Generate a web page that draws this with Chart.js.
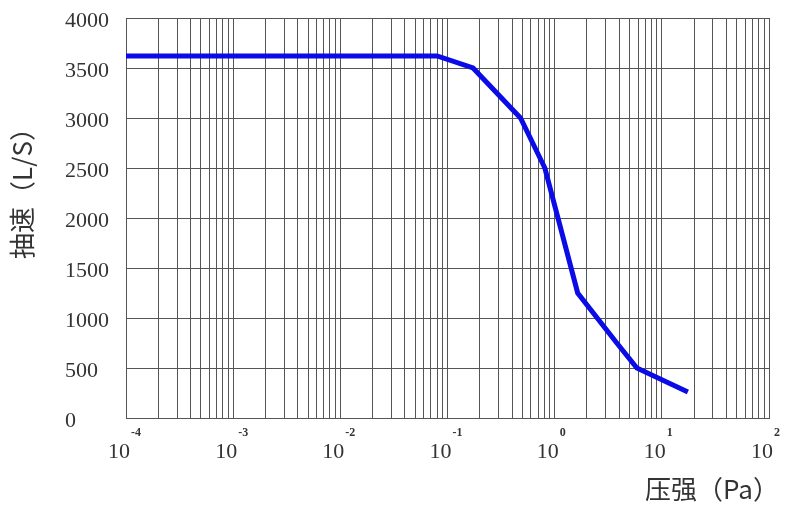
<!DOCTYPE html>
<html>
<head>
<meta charset="utf-8">
<script src="https://cdn.jsdelivr.net/npm/chart.js@4/dist/chart.umd.min.js"></script>
<style>
  html, body { margin: 0; padding: 0; background: #fff; }
  #wrap { width: 800px; height: 517px; }
</style>
</head>
<body>
<div id="wrap"><canvas id="chart"></canvas></div>
<script>
// pressure (Pa) vs pumping speed (L/S)
const pressure = [0.0001, 0.08, 0.173, 0.48, 0.81, 1.64, 3.8, 5.85, 17.5];
const speed = [3620, 3620, 3500, 3000, 2500, 1250, 750, 500, 260];

// log axis: one major line per decade, minor lines at 2..9
const decades = [-4, -3, -2, -1, 0, 1, 2];
const minorSteps = [2, 3, 4, 5, 6, 7, 8, 9];
const yStep = 250;
const yLabelStep = 500;

const xTitle = "压强（Pa）";
const yTitle = "抽速（L/S）";

const serif = '"Liberation Serif", "DejaVu Serif", serif';
const cjk = '"Noto Sans CJK SC", sans-serif';
const textColor = "#333";
const gridColor = "#555";

const axisText = {
  id: "axisText",
  afterDraw(chart) {
    const ctx = chart.ctx;
    const area = chart.chartArea;
    const x = chart.scales.x;
    ctx.save();
    ctx.fillStyle = textColor;
    ctx.textBaseline = "alphabetic";
    decades.forEach(e => {
      const px = x.getPixelForValue(Math.pow(10, e));
      ctx.font = "22px " + serif;
      ctx.textAlign = "center";
      ctx.fillText("10", px - 7, area.bottom + 40);
      ctx.font = "bold 12px " + serif;
      ctx.textAlign = "left";
      ctx.fillText(String(e), px + 5, area.bottom + 18);
    });

    ctx.font = "26px " + cjk;
    ctx.textAlign = "center";
    ctx.textBaseline = "middle";
    ctx.fillText(xTitle, 712, 489);

    ctx.translate(22, 187);
    ctx.rotate(-Math.PI / 2);
    ctx.fillText(yTitle, 0, 0);
    ctx.restore();
  }
};

new Chart(document.getElementById("chart"), {
  type: "line",
  data: {
    datasets: [{
      data: pressure.map((p, i) => ({ x: p, y: speed[i] })),
      borderColor: "#0b0be8",
      borderWidth: 5,
      pointRadius: 0,
      tension: 0,
      fill: false
    }]
  },
  options: {
    responsive: true,
    maintainAspectRatio: false,
    animation: false,
    layout: { padding: { left: 65, top: 18, right: 31, bottom: 0 } },
    plugins: {
      legend: { display: false },
      tooltip: { enabled: false }
    },
    scales: {
      x: {
        type: "logarithmic",
        min: Math.pow(10, decades[0]),
        max: Math.pow(10, decades[decades.length - 1]),
        afterBuildTicks(scale) {
          const ticks = [];
          decades.forEach((e, i) => {
            ticks.push({ value: Math.pow(10, e) });
            if (i < decades.length - 1) {
              minorSteps.forEach(m => ticks.push({ value: m * Math.pow(10, e) }));
            }
          });
          scale.ticks = ticks;
        },
        afterFit(scale) { scale.height = 99; },
        ticks: { display: false },
        grid: { color: gridColor, lineWidth: 1, drawTicks: false },
        border: { display: true, color: gridColor, width: 1 }
      },
      y: {
        min: 0,
        max: 4000,
        afterFit(scale) { scale.width = 61; },
        ticks: {
          stepSize: yStep,
          crossAlign: "far",
          labelOffset: 3,
          color: textColor,
          font: { family: serif, size: 22 },
          callback: v => (v % yLabelStep === 0 ? String(v) : "")
        },
        grid: { color: gridColor, lineWidth: 1, drawTicks: false },
        border: { display: true, color: gridColor, width: 1 }
      }
    }
  },
  plugins: [axisText]
});
</script>
</body>
</html>
